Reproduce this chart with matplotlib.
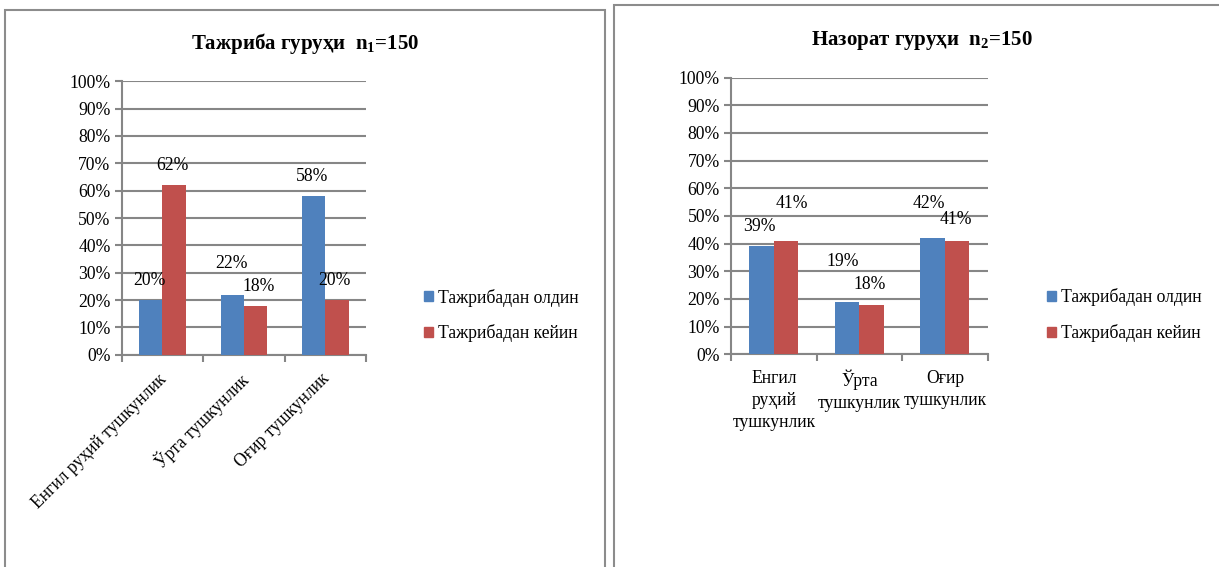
import numpy as np
import matplotlib
matplotlib.use("Agg")
import matplotlib.pyplot as plt
from matplotlib.patches import Rectangle, Patch

plt.rcParams['font.family'] = ['Liberation Serif', 'DejaVu Serif']
plt.rcParams['mathtext.fontset'] = 'custom'
plt.rcParams['mathtext.rm'] = 'Liberation Serif'
plt.rcParams['mathtext.bf'] = 'Liberation Serif:bold'

# data
series_names = ["Тажрибадан олдин", "Тажрибадан кейин"]
cats_left = ["Енгил руҳий тушкунлик", "Ўрта тушкунлик", "Оғир тушкунлик"]
cats_right = ["Енгил\nруҳий\nтушкунлик", "Ўрта\nтушкунлик", "Оғир\nтушкунлик"]
exp_before = [20, 22, 58]
exp_after = [62, 18, 20]
ctl_before = [39, 19, 42]
ctl_after = [41, 18, 41]

blue = "#4F81BD"
red = "#C0504D"
grid_c = "#868686"
W = 0.286
FS = 12.7

fig = plt.figure(figsize=(12.19, 5.67), dpi=100)

# panel borders
fig.patches.append(Rectangle((5 / 1219, -0.05), 600 / 1219, 1.05 - 10 / 567,
                             transform=fig.transFigure, fill=False,
                             edgecolor="#8c8c8c", lw=1.5))
fig.patches.append(Rectangle((613.5 / 1219, -0.05), 620 / 1219, 1.05 - 5 / 567,
                             transform=fig.transFigure, fill=False,
                             edgecolor="#8c8c8c", lw=1.5))


def draw(ax, before, after, offs_b, offs_a):
    x = np.arange(len(before))
    b1 = ax.bar(x - W / 2, before, W, color=blue, zorder=3)
    b2 = ax.bar(x + W / 2, after, W, color=red, zorder=3)
    for bars, vals, offs in ((b1, before, offs_b), (b2, after, offs_a)):
        for r, v, (dx, dy) in zip(bars, vals, offs):
            ax.annotate(f"{v}%", (r.get_x() + r.get_width() / 2, v),
                        xytext=(dx * 0.72, dy * 0.72), textcoords="offset points",
                        ha="center", va="center", fontsize=FS, zorder=4)
    ax.set_xlim(-0.5, len(before) - 0.5)
    ax.set_ylim(0, 100)
    ax.set_yticks(np.arange(0, 101, 10))
    ax.set_yticklabels([f"{t}%" for t in range(0, 101, 10)], fontsize=FS)
    ax.yaxis.grid(True, color=grid_c, lw=1.5, zorder=0)
    ax.set_axisbelow(True)
    for s in ("top", "right"):
        ax.spines[s].set_visible(False)
    for s in ("left", "bottom"):
        ax.spines[s].set_color(grid_c)
        ax.spines[s].set_linewidth(1.5)
    ax.tick_params(axis="y", length=5, width=1.5, color=grid_c, pad=3)
    ax.set_xticks(np.arange(-0.5, len(before), 1.0))
    ax.set_xticklabels([])
    ax.tick_params(axis="x", length=5, width=1.5, color=grid_c)


def legend(x_px, y_px):
    fig.legend(handles=[Patch(color=blue), Patch(color=red)], labels=series_names,
               loc="center left", bbox_to_anchor=(x_px / 1219, 1 - y_px / 567),
               frameon=False, borderpad=0, borderaxespad=0, fontsize=FS,
               handlelength=0.5, handleheight=0.5, handletextpad=0.3,
               labelspacing=1.0)


# left panel
axl = fig.add_axes([0.0998, 0.3744, 0.2005, 0.4822])
draw(axl, exp_before, exp_after,
     [(-1, 20), (-0.6, 31.5), (-2, 20)],
     [(-1.4, 20), (3, 19.5), (-2.4, 20)])
for i, lab in enumerate(cats_left):
    axl.text(i + 0.02, -8, lab, rotation=45, ha="right", va="center",
             rotation_mode="anchor", fontsize=FS)
fig.text(305 / 1219, 1 - 43 / 567, r"Тажриба гуруҳи  $\mathbf{n_1}$=150",
         ha="center", va="center", fontsize=15, fontweight="bold")
legend(424, 315.5)

# right panel
axr = fig.add_axes([0.5997, 0.3751, 0.2106, 0.4880])
draw(axr, ctl_before, ctl_after,
     [(-2.5, 20.4), (-4, 40.7), (-3.7, 35)],
     [(5.5, 36.9), (-2, 20.5), (-1.4, 21)])
for i, lab in enumerate(cats_right):
    axr.text(i, -5.5, lab, ha="center", va="top", fontsize=FS, linespacing=1.4)
fig.text(922 / 1219, 1 - 40 / 567, r"Назорат гуруҳи  $\mathbf{n_2}$=150",
         ha="center", va="center", fontsize=15, fontweight="bold")
legend(1047, 315)

fig.savefig("out.png", dpi=100)
